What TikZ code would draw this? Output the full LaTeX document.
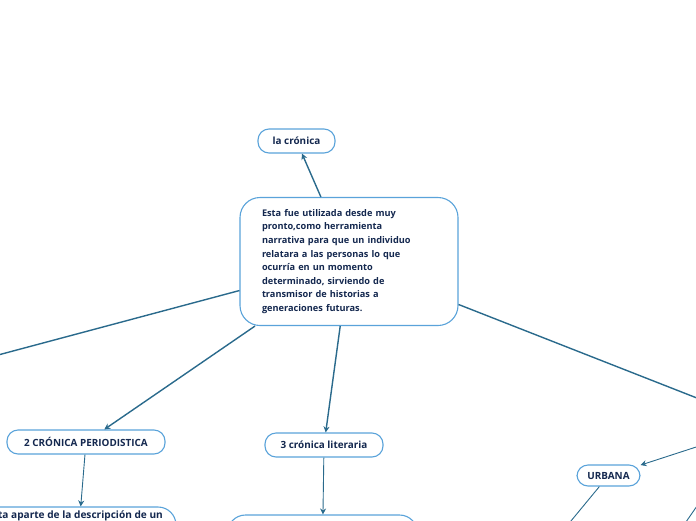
\documentclass[tikz,border=0pt]{standalone}
\usepackage{fontspec}
\setmainfont{Open Sans}
\usetikzlibrary{arrows.meta}
\definecolor{boxblue}{HTML}{5AA3DA}
\definecolor{linkc}{HTML}{2A6A8C}
\definecolor{txt}{HTML}{14284F}
\begin{document}
\begin{tikzpicture}[x=1pt,y=-1pt,
  box/.style={draw=boxblue, line width=1.1pt, fill=white, rounded corners=11pt,
    font=\bfseries\fontsize{9.9}{12}\selectfont, text=txt, inner sep=0pt, align=center},
  mainfont/.style={font=\bfseries\fontsize{9.2}{13.6}\selectfont},
  link/.style={draw=linkc, line width=1.4pt},
  thin link/.style={draw=linkc, line width=0.9pt},
  tip/.style={-{Stealth[length=6pt,width=6pt]}}]
\useasboundingbox (0,0) rectangle (696,520);
\clip (0,0) rectangle (696,520);

\node[box, minimum width=77pt, minimum height=24pt] (cron) at (296.5,141) {la crónica};
\node[box, mainfont, rounded corners=20pt, align=left, text width=174pt, inner xsep=22pt, inner ysep=10pt,
  minimum height=128pt] (main) at (349,261.5)
  {Esta fue utilizada desde muy\\ pronto,como herramienta\\ narrativa para que un individuo\\
   relatara a las personas lo que\\ ocurría en un momento\\ determinado, sirviendo de\\
   transmisor de historias a\\ generaciones futuras.};
\node[box, minimum width=158pt, minimum height=24pt] (per) at (86,442) {2 CRÓNICA PERIODISTICA};
\node[box, minimum width=118pt, minimum height=24pt] (lit) at (324,445) {3 crónica literaria};
\node[box, minimum width=63pt, minimum height=21pt] (urb) at (608.5,475.5) {URBANA};
\node[box, minimum width=196pt, minimum height=66pt, rounded corners=18pt] (bl) at (78,540) {};
\node[font=\bfseries\fontsize{10.1}{12}\selectfont, text=txt, anchor=base east, inner sep=0pt]
  (bltext) at (163,518.5) {Esta aparte de la descripción de un};
\node[box, minimum width=190pt, minimum height=60pt, rounded corners=18pt] (lm) at (322.5,545) {};

\coordinate (left) at (-30,362.5);
\coordinate (right) at (730,411);
\coordinate (r1) at (730,436);
\coordinate (u1) at (547,550);
\coordinate (r2a) at (715,480);
\coordinate (r2b) at (670,545);

\draw[link, tip] (main) -- (cron);
\draw[link] (main) -- (left);
\draw[link] (main) -- (right);
\draw[link, tip] (main) -- (per);
\draw[link, tip] (main) -- (lit);
\draw[thin link, tip] (per) -- (bl);
\draw[thin link, tip] (lit) -- (lm);
\draw[thin link, tip] (r1) -- (urb);
\draw[thin link] (urb) -- (u1);
\draw[thin link] (r2a) -- (r2b);
\end{tikzpicture}
\end{document}
